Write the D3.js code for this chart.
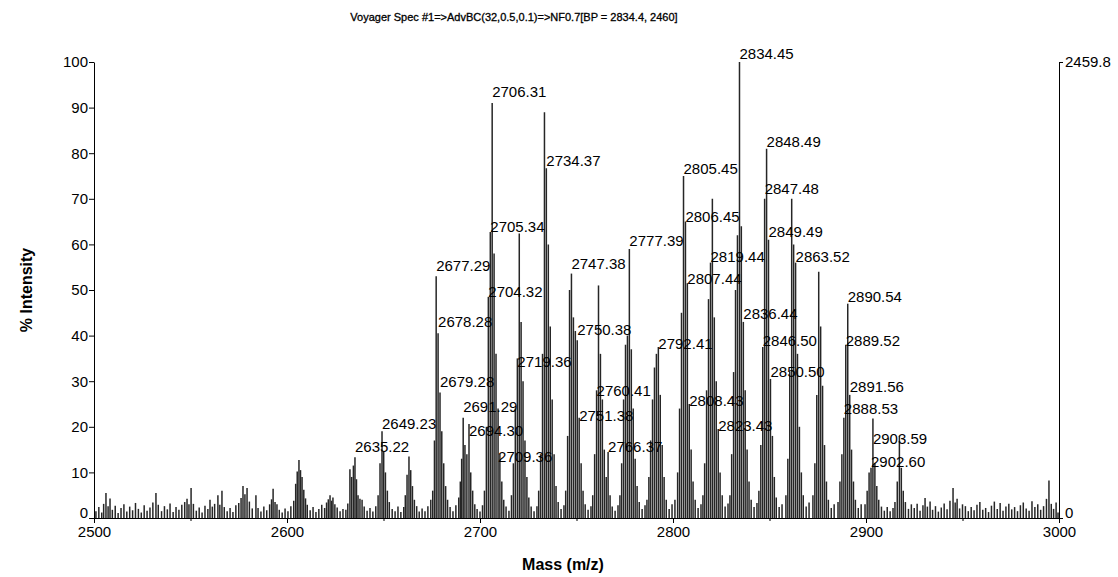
<!DOCTYPE html>
<html>
<head>
<meta charset="utf-8">
<script src="https://cdn.jsdelivr.net/npm/d3@7/dist/d3.min.js"></script>
<style>
  body { margin: 0; background: #fff; }
  svg { display: block; font-family: "Liberation Sans", Arial, sans-serif; }
</style>
</head>
<body>
<div id="chart"></div>
<script>
const titleText = "Voyager Spec #1=>AdvBC(32,0.5,0.1)=>NF0.7[BP = 2834.4, 2460]";
const xTicks = [2500, 2600, 2700, 2800, 2900, 3000];
const xMinorTicks = [2550, 2650, 2750, 2850, 2950];
const yTicks = [0, 10, 20, 30, 40, 50, 60, 70, 80, 90, 100];
const rightAxisLabels = ["0", "2459.8"];

// [m/z, % intensity]
const noiseLow = [[2501,1.5],[2502.5,2.4],[2504,1.2],[2505,3.1],[2506.2,5.5],[2507.3,2.6],[2508.3,4.3],[2509.5,1.8],[2511,2.7],[2512.5,1.1],[2514,2.2],[2515.5,3.0],[2517,1.4],[2518.5,2.5],[2520,1.7],[2521.5,3.3],[2523,2.0],[2524.5,1.2],[2526,2.8],[2527.5,1.6],[2529,2.3],[2530.5,3.4],[2532.1,5.5],[2533.3,2.9],[2535,1.5],[2536.5,2.6],[2538,1.9],[2539.4,3.2],[2541,1.3],[2542.5,2.4],[2544,1.8],[2545.5,2.9],[2547,3.5],[2548.2,4.2],[2549.2,3.0],[2550.3,6.6],[2551.5,3.1],[2553,1.6],[2554.5,2.3],[2556,1.2],[2557.5,2.7],[2559,2.0],[2560.1,4.0],[2561.3,2.5],[2562.5,3.1],[2564.2,5.0],[2565.2,2.9],[2566.3,6.0],[2567.5,2.4],[2569,1.5],[2570.5,2.2],[2572,1.3],[2573.5,2.8],[2575,3.3],[2576.2,4.4],[2577.2,7.0],[2578.2,5.2],[2579.3,6.6],[2580.5,3.6],[2582,2.1],[2583.9,5.0],[2585,2.2],[2586.5,1.4],[2588,2.5],[2589.5,1.7],[2591,3.0],[2592,4.1],[2592.8,6.4],[2593.8,3.5],[2594.8,3.0],[2596,1.8],[2597.5,1.2],[2599,2.1],[2600.5,1.5],[2602,2.6],[2603.5,3.8],[2604.5,7.5],[2605.3,10.2],[2606.2,12.7],[2607,10.5],[2607.8,9.0],[2608.7,6.2],[2609.6,4.3],[2610.5,2.9],[2612,1.7],[2613.5,2.4],[2615,1.3],[2616.5,2.0],[2618,2.9],[2619.5,2.2],[2620.5,3.4],[2621.4,4.1],[2622.3,5.0],[2623.1,3.8],[2623.8,4.5],[2624.8,3.0],[2626,2.3],[2627.5,1.5],[2629,2.0],[2630.5,1.8]];
const cluster2635 = [[2631.5,3.2],[2632.6,10.7],[2633.5,9],[2634.4,11.5],[2635.22,13.3],[2636,8.5],[2636.8,5],[2637.8,4.2],[2638.9,4],[2640,2.5],[2641.5,1.6],[2643,2.2],[2644.5,1.4],[2646,2.6]];
const cluster2649 = [[2647.2,5],[2648.2,12],[2649.23,19],[2650.1,14.5],[2651,10],[2652,6],[2653,3.5],[2654.5,2],[2656,1.5],[2657.5,2.5],[2659,1.3],[2660.5,2.4]];
const cluster2663 = [[2661.3,5],[2662.2,9.5],[2663.2,13.5],[2664.1,10.5],[2665,7],[2666,4],[2667.2,2.6],[2668.5,1.4],[2670,2.1],[2671.5,1.5],[2673,2.6],[2674.5,4]];
const cluster2677 = [[2675.5,6],[2676.4,17],[2677.29,53],[2678.28,40.5],[2679.28,27.5],[2680.2,19],[2681.2,12],[2682.2,7],[2683.2,4],[2684.5,2.4],[2686,1.5],[2687.5,2.8],[2689,4.5]];
const cluster2691 = [[2689.8,8],[2690.5,13],[2691.29,22],[2692.2,16],[2693.2,14],[2694.3,20.6],[2695.2,10],[2696.2,6],[2697.3,3],[2698.5,2],[2700,1.4],[2701.3,2.8]];
const cluster2705 = [[2702.3,6],[2703.3,20],[2704.32,48.5],[2705.34,62.7],[2706.31,91],[2707.3,58],[2708.3,36],[2709.36,24],[2710.3,14],[2711.3,8],[2712.3,4],[2713.5,2.5],[2715,1.6]];
const cluster2719 = [[2716.3,5],[2717.3,12],[2718.3,24],[2719.36,35],[2720.35,62.4],[2721.3,43],[2722.3,30],[2723.3,17],[2724.3,9],[2725.3,4.5],[2726.5,2.5],[2728,1.5],[2729.5,2.6]];
const cluster2733 = [[2730.4,6],[2731.4,14],[2732.4,36],[2733.4,89],[2734.37,76.7],[2735.4,60],[2736.4,42],[2737.4,26],[2738.4,14],[2739.4,7],[2740.5,3.5],[2742,2],[2743.5,2.8]];
const cluster2747 = [[2744.4,6],[2745.4,18],[2746.4,50],[2747.38,53.6],[2748.4,44],[2749.4,41],[2750.38,39],[2751.38,22],[2752.4,12],[2753.4,6],[2754.5,3],[2756,1.8],[2757.5,2.6]];
const cluster2761 = [[2758.4,5],[2759.4,14],[2760.41,28],[2761.4,51],[2762.4,36],[2763.4,26],[2764.4,15],[2765.4,9],[2766.37,14.5],[2767.4,5],[2768.5,2.5],[2770,1.6],[2771.5,2.8]];
const cluster2775 = [[2772.5,5],[2773.4,12],[2774.4,26],[2775.4,38],[2776.4,40],[2777.39,59],[2778.4,37],[2779.4,24],[2780.4,13],[2781.4,7],[2782.5,3.5],[2784,2],[2785.5,2.8]];
const cluster2789 = [[2786.5,4],[2787.5,9],[2788.4,17],[2789.4,26],[2790.4,33],[2791.4,36],[2792.41,37.5],[2793.4,27],[2794.4,16],[2795.4,9],[2796.5,4],[2798,2],[2799.5,3]];
const cluster2805 = [[2801,4],[2802.4,10],[2803.4,24],[2804.4,45],[2805.45,75],[2806.45,65],[2807.44,51.5],[2808.43,25],[2809.4,15],[2810.4,8],[2811.5,4],[2813,2.2],[2814.5,3]];
const cluster2819 = [[2815.5,5],[2816.4,12],[2817.4,28],[2818.4,48],[2819.44,56],[2820.4,70],[2821.4,44],[2822.4,30],[2823.43,19.5],[2824.4,10],[2825.5,5],[2827,2.5],[2828.5,3.2]];
const cluster2833 = [[2829.5,5],[2830.4,14],[2831.4,32],[2832.4,50],[2833.4,62],[2834.45,100],[2835.4,64],[2836.44,43],[2837.4,28],[2838.4,15],[2839.4,8],[2840.5,4],[2842,2.4],[2843.5,3.3]];
const cluster2847 = [[2844.5,6],[2845.5,16],[2846.5,37.5],[2847.48,70],[2848.49,81],[2849.49,61],[2850.5,30.5],[2851.5,18],[2852.5,9],[2853.5,4.5],[2855,2.4],[2856.5,3]];
const cluster2861 = [[2858.5,5],[2859.5,13],[2860.5,32],[2861.5,70],[2862.5,60],[2863.52,56],[2864.5,36],[2865.5,20],[2866.5,10],[2867.5,5],[2869,2.5],[2870.5,3.4]];
const cluster2875 = [[2872.5,5],[2873.5,12],[2874.5,27],[2875.5,54],[2876.5,42],[2877.5,29],[2878.5,16],[2879.5,8],[2880.5,4],[2882,2.2],[2883.5,3]];
const cluster2889 = [[2885.5,3.5],[2886.5,8],[2887.5,14],[2888.53,22],[2889.52,38],[2890.54,47],[2891.56,27],[2892.5,15],[2893.5,8],[2894.5,4],[2896,2.2],[2897.5,3]];
const cluster2903 = [[2899.5,3],[2900.6,6],[2901.6,10],[2902.6,11],[2903.59,21.8],[2904.6,12],[2905.6,7],[2906.6,4],[2908,2.5],[2909.5,1.6],[2911,2.4],[2912.5,1.5],[2914,2.2]];
const cluster2917 = [[2915,3.5],[2916.2,8],[2917.3,18],[2918.3,11],[2919.3,6],[2920.4,3.5],[2922,2],[2923.5,3]];
const noiseHigh = [[2925,2.2],[2926.5,3.1],[2928,1.6],[2929.5,2.8],[2930.6,4.4],[2931.8,2.5],[2933.2,3.6],[2934.5,1.8],[2936,2.6],[2937.5,1.4],[2939,2.3],[2940.5,3.2],[2942,1.9],[2943.5,3.8],[2945.1,6.6],[2946.2,3.4],[2947.2,4.2],[2948.5,2.1],[2950,3.0],[2951.5,2.6],[2953,1.5],[2954.5,2.4],[2956,1.7],[2957.5,2.9],[2959,3.5],[2960.5,1.8],[2962,2.2],[2963.5,1.3],[2965,2.7],[2966.5,3.6],[2968,2.0],[2969.5,3.3],[2971,1.6],[2972.5,2.5],[2974,3.1],[2975.5,1.9],[2977,2.4],[2978.5,1.5],[2980,2.8],[2981.5,3.4],[2983,2.1],[2984.5,1.6],[2986,3.7],[2987.5,2.4],[2989,3.0],[2990.5,1.8],[2992,2.6],[2993.5,4.2],[2994.8,8.2],[2996,3.1],[2997.2,2.0],[2998.5,3.4],[2999.5,1.2]];

// labelled peaks: [m/z, % level the label sits on]
const peakLabels = [[2635.22,14.3],[2649.23,19.3],[2677.29,54],[2678.28,41.7],[2679.28,28.5],[2691.29,23],[2694.30,17.8],[2704.32,48.2],[2705.34,62.5],[2706.31,92],[2709.36,12],[2719.36,32.9],[2734.37,77],[2747.38,54.4],[2750.38,40],[2751.38,21],[2760.41,26.5],[2766.37,14.3],[2777.39,59.4],[2792.41,36.8],[2805.45,75.2],[2806.45,64.7],[2807.44,51],[2808.43,24.3],[2819.44,56],[2823.43,18.9],[2834.45,100.4],[2836.44,43.4],[2846.50,37.5],[2847.48,70.8],[2848.49,81.1],[2849.49,61.4],[2850.50,30.7],[2863.52,55.9],[2888.53,22.6],[2889.52,37.5],[2890.54,47.1],[2891.56,27.4],[2902.60,11],[2903.59,16]];

const spectrum = [].concat(noiseLow, cluster2635, cluster2649, cluster2663, cluster2677,
  cluster2691, cluster2705, cluster2719, cluster2733, cluster2747, cluster2761,
  cluster2775, cluster2789, cluster2805, cluster2819, cluster2833, cluster2847,
  cluster2861, cluster2875, cluster2889, cluster2903, cluster2917, noiseHigh);

const dimensions = {
  width: 1118,
  height: 577,
  margin: { top: 62, right: 59, bottom: 59, left: 94 },
};
dimensions.boundedWidth = dimensions.width - dimensions.margin.left - dimensions.margin.right;
dimensions.boundedHeight = dimensions.height - dimensions.margin.top - dimensions.margin.bottom;

const svg = d3.select("#chart").append("svg")
  .attr("width", dimensions.width)
  .attr("height", dimensions.height);

svg.append("text")
  .attr("x", 514).attr("y", 21)
  .attr("text-anchor", "middle")
  .attr("font-size", 11)
  .attr("stroke", "#000")
  .attr("stroke-width", 0.3)
  .text(titleText);

const bounds = svg.append("g")
  .attr("transform", `translate(${dimensions.margin.left},${dimensions.margin.top})`);

const xScale = d3.scaleLinear().domain([2500, 3000]).range([0, dimensions.boundedWidth]);
const yScale = d3.scaleLinear().domain([0, 100]).range([dimensions.boundedHeight, 0]);

// spectrum sticks
bounds.append("g")
  .attr("stroke", "#262626")
  .attr("stroke-width", 1.5)
  .selectAll("line")
  .data(spectrum)
  .join("line")
  .attr("x1", d => xScale(d[0]))
  .attr("x2", d => xScale(d[0]))
  .attr("y1", yScale(0))
  .attr("y2", d => yScale(d[1]));

// peak labels
bounds.append("g")
  .attr("font-size", 15)
  .attr("fill", "#000")
  .selectAll("text")
  .data(peakLabels)
  .join("text")
  .attr("x", d => xScale(d[0]))
  .attr("y", d => yScale(d[1]) - 1)
  .text(d => d[0].toFixed(2));

// axes
const styleAxis = g => {
  g.selectAll("text").attr("font-size", 15).attr("font-family", "Liberation Sans, Arial, sans-serif").attr("fill", "#000");
  g.selectAll("line, path").attr("stroke", "#000");
};

// the zero labels sit a little above the baseline, clear of the mass labels
const liftZero = g => g.selectAll(".tick").filter(d => d === 0).select("text").attr("dy", "-0.05em");

bounds.append("g")
  .call(d3.axisLeft(yScale).tickValues(yTicks).tickSize(5).tickSizeOuter(0).tickPadding(1))
  .call(styleAxis)
  .call(liftZero);

bounds.append("g")
  .attr("transform", `translate(0,${dimensions.boundedHeight})`)
  .call(d3.axisBottom(xScale).tickValues(xTicks).tickSize(5).tickSizeOuter(0).tickPadding(3)
    .tickFormat(d3.format("d")))
  .call(styleAxis);

bounds.append("g")
  .attr("transform", `translate(0,${dimensions.boundedHeight})`)
  .call(d3.axisBottom(xScale).tickValues(xMinorTicks).tickSize(3).tickSizeOuter(0).tickFormat(""))
  .call(g => g.select(".domain").remove())
  .call(styleAxis);

bounds.append("g")
  .attr("transform", `translate(${dimensions.boundedWidth},0)`)
  .call(d3.axisRight(yScale).tickValues([0, 100]).tickSize(4).tickSizeOuter(0).tickPadding(2)
    .tickFormat((d, i) => rightAxisLabels[i]))
  .call(styleAxis)
  .call(liftZero);

// axis titles
svg.append("text")
  .attr("transform", `translate(32,${dimensions.margin.top + dimensions.boundedHeight / 2}) rotate(-90)`)
  .attr("text-anchor", "middle")
  .attr("font-size", 16)
  .attr("font-weight", "bold")
  .text("% Intensity");

svg.append("text")
  .attr("x", 563)
  .attr("y", 570)
  .attr("text-anchor", "middle")
  .attr("font-size", 16)
  .attr("font-weight", "bold")
  .text("Mass (m/z)");
</script>
</body>
</html>
